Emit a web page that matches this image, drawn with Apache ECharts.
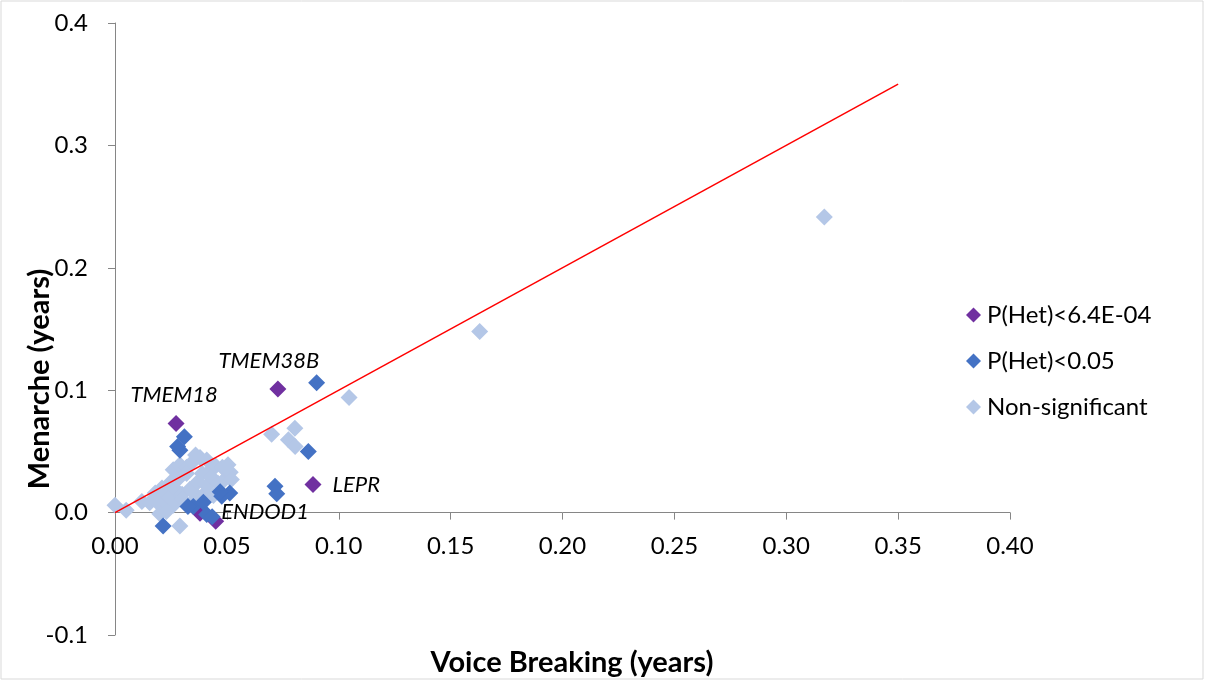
<!DOCTYPE html>
<html>
<head>
<meta charset="utf-8">
<script src="https://cdn.jsdelivr.net/npm/echarts@6/dist/echarts.min.js"></script>
<style>
  html, body { margin: 0; padding: 0; background: #fff; }
  #chart { width: 1205px; height: 681px; }
</style>
</head>
<body>
<div id="chart"></div>
<script>
// Per-locus effect estimates: [voice breaking (years), menarche (years)]
const hetStrong = [
  [0.0273, 0.0727],   // TMEM18
  [0.0728, 0.1010],   // TMEM38B
  [0.0885, 0.0229],   // LEPR
  [0.0450, -0.0070],  // ENDOD1
  [0.0380, -0.0005]
];
const hetStrongLabels = ['TMEM18', 'TMEM38B', 'LEPR', 'ENDOD1', ''];

const hetWeak = [
  [0.0310, 0.0620], [0.0290, 0.0510], [0.0280, 0.0540], [0.0901, 0.1060],
  [0.0864, 0.0500], [0.0715, 0.0215], [0.0723, 0.0155], [0.0513, 0.0160],
  [0.0477, 0.0133], [0.0350, 0.0050], [0.0395, 0.0085], [0.0410, -0.0016],
  [0.0434, -0.0033], [0.0215, -0.0110], [0.0326, 0.0050], [0.0470, 0.0170]
];

const nonSig = [
  [0.0000, 0.0060], [0.0050, 0.0020], [0.0120, 0.0090], [0.0155, 0.0080],
  [0.0180, 0.0160], [0.0210, 0.0200], [0.0220, 0.0155], [0.0240, 0.0120],
  [0.0250, 0.0250], [0.0260, 0.0350], [0.0260, 0.0060], [0.0270, 0.0190],
  [0.0280, 0.0270], [0.0290, 0.0390], [0.0300, 0.0150], [0.0300, 0.0110],
  [0.0320, 0.0370], [0.0320, 0.0320], [0.0335, 0.0190], [0.0335, 0.0065],
  [0.0350, 0.0420], [0.0360, 0.0470], [0.0370, 0.0250], [0.0370, 0.0130],
  [0.0380, 0.0450], [0.0390, 0.0320], [0.0400, 0.0155], [0.0410, 0.0430],
  [0.0410, 0.0220], [0.0430, 0.0350], [0.0430, 0.0290], [0.0440, 0.0140],
  [0.0450, 0.0380], [0.0460, 0.0240], [0.0480, 0.0370], [0.0490, 0.0270],
  [0.0495, 0.0350], [0.0505, 0.0390], [0.0515, 0.0330], [0.0520, 0.0270],
  [0.0200, 0.0065], [0.0200, -0.0010], [0.0230, 0.0010], [0.0290, -0.0110],
  [0.0700, 0.0640], [0.0775, 0.0596], [0.0805, 0.0540], [0.0804, 0.0690],
  [0.1046, 0.0940], [0.1630, 0.1480], [0.3170, 0.2416]
];

// Line of equal effect (y = x)
const identityLine = [[0, 0], [0.35, 0.35]];

const xTicks = { min: 0, max: 0.4, step: 0.05 };
const yTicks = { min: -0.1, max: 0.4, step: 0.1 };

const FONT = 'Lato, "Liberation Sans", sans-serif';
const AXIS_GREY = '#868686';
const MARK_SIZE = 17;

const GRID = { left: 115, right: 195, top: 23, bottom: 46 };
const plotHeight = 681 - GRID.top - GRID.bottom;
// shift the horizontal axis up from the grid bottom to the y = 0 line
const xAxisShift = -plotHeight * (0 - yTicks.min) / (yTicks.max - yTicks.min);

const labelPos = {
  TMEM18:  { position: 'top', offset: [-2, -4] },
  TMEM38B: { position: 'top', offset: [-9, -4] },
  LEPR:    { position: 'right', offset: [6, 0] },
  ENDOD1:  { position: 'right', offset: [-8, -9] }
};

const chart = echarts.init(document.getElementById('chart'));

chart.setOption({
  animation: false,
  backgroundColor: '#fff',
  textStyle: { fontFamily: FONT },
  grid: Object.assign({ containLabel: false }, GRID),
  legend: {
    orient: 'vertical',
    left: 961,
    top: 298,
    itemGap: 22,
    itemWidth: 15,
    itemHeight: 15,
    textStyle: { fontSize: 24, color: '#000', fontFamily: FONT, padding: [0, 0, 0, 1] },
    data: [
      { name: 'P(Het)<6.4E-04', icon: 'diamond' },
      { name: 'P(Het)<0.05', icon: 'diamond' },
      { name: 'Non-significant', icon: 'diamond' }
    ]
  },
  xAxis: {
    type: 'value',
    position: 'bottom',
    offset: xAxisShift,
    min: xTicks.min, max: xTicks.max, interval: xTicks.step,
    axisLine: { onZero: false, lineStyle: { color: AXIS_GREY, width: 1 } },
    axisTick: { show: true, inside: false, length: 7, lineStyle: { color: AXIS_GREY } },
    axisLabel: {
      fontSize: 24, color: '#000', fontFamily: FONT, margin: 22,
      formatter: v => v.toFixed(2)
    },
    splitLine: { show: false }
  },
  yAxis: {
    type: 'value',
    min: yTicks.min, max: yTicks.max, interval: yTicks.step,
    axisLine: { show: true, lineStyle: { color: AXIS_GREY, width: 1 } },
    axisTick: { show: true, inside: false, length: 7, lineStyle: { color: AXIS_GREY } },
    axisLabel: {
      fontSize: 24, color: '#000', fontFamily: FONT, margin: 27,
      formatter: v => v.toFixed(1)
    },
    splitLine: { show: false }
  },
  series: [
    {
      name: 'P(Het)<6.4E-04',
      type: 'scatter',
      symbol: 'diamond',
      symbolSize: MARK_SIZE,
      itemStyle: { color: '#7030A0', opacity: 1 },
      z: 3,
      data: hetStrong.map((p, i) => {
        const name = hetStrongLabels[i];
        const pos = labelPos[name];
        return {
          value: p,
          label: name ? {
            show: true,
            formatter: name,
            position: pos.position,
            offset: pos.offset,
            fontSize: 22,
            fontStyle: 'italic',
            color: '#000',
            fontFamily: FONT
          } : { show: false }
        };
      })
    },
    {
      name: 'P(Het)<0.05',
      type: 'scatter',
      symbol: 'diamond',
      symbolSize: MARK_SIZE,
      itemStyle: { color: '#4472C4', opacity: 1 },
      z: 4,
      data: hetWeak
    },
    {
      name: 'Non-significant',
      type: 'scatter',
      symbol: 'diamond',
      symbolSize: MARK_SIZE,
      itemStyle: { color: '#B4C7E7', opacity: 1 },
      z: 2,
      data: nonSig
    },
    {
      name: 'identity',
      type: 'line',
      data: identityLine,
      showSymbol: false,
      symbol: 'none',
      lineStyle: { color: '#FF0000', width: 1.5 },
      z: 5,
      silent: true
    }
  ],
  graphic: [
    {
      type: 'rect',
      x: 1, y: 1,
      shape: { width: 1202, height: 678 },
      style: { fill: 'none', stroke: '#D9D9D9', lineWidth: 1 },
      silent: true
    },
    {
      type: 'text',
      x: 572, y: 663,
      style: {
        text: 'Voice Breaking (years)',
        font: 'bold 29px ' + FONT,
        fill: '#000',
        align: 'center',
        verticalAlign: 'middle'
      }
    },
    {
      type: 'text',
      x: 40, y: 379,
      rotation: Math.PI / 2,
      style: {
        text: 'Menarche (years)',
        font: 'bold 29px ' + FONT,
        fill: '#000',
        align: 'center',
        verticalAlign: 'middle'
      }
    }
  ]
});
</script>
</body>
</html>
